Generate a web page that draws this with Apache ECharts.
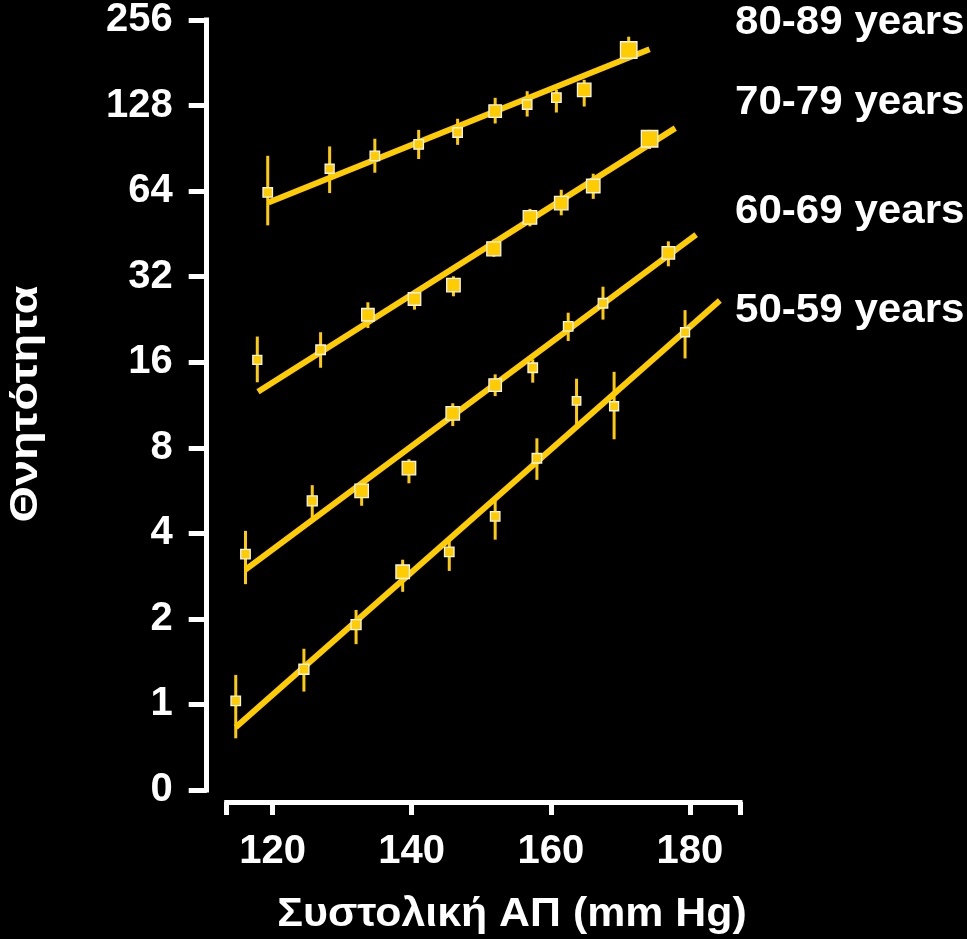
<!DOCTYPE html>
<html>
<head>
<meta charset="utf-8">
<title>Θνητότητα και συστολική ΑΠ</title>
<script src="https://cdn.jsdelivr.net/npm/echarts@6/dist/echarts.min.js"></script>
<style>
  html, body { margin: 0; padding: 0; background: #000; }
  #chart { width: 967px; height: 939px; }
</style>
</head>
<body>
<div id="chart"></div>
<script>
// Age groups, top to bottom in the legend column
const ageGroups = ['80-89 years', '70-79 years', '60-69 years', '50-59 years'];

// Systolic BP (mm Hg) per group
const sbp80 = [119.3, 128.2, 134.7, 141.0, 146.6, 152.0, 156.6, 160.8, 164.8, 171.2];
const sbp70 = [117.8, 126.9, 133.7, 140.4, 146.0, 151.8, 157.0, 161.5, 166.1, 174.2];
const sbp60 = [116.1, 125.7, 132.8, 139.6, 145.9, 152.0, 157.4, 162.5, 167.5, 176.9];
const sbp50 = [114.7, 124.5, 132.0, 138.7, 145.4, 152.0, 158.0, 163.7, 169.1, 179.3];

// Mortality per group
const mort80 = [63.3, 76.7, 85.2, 93.4, 102.9, 122.4, 129.1, 136.5, 145.3, 200.8];
const mort70 = [16.3, 17.7, 23.5, 26.7, 29.9, 40.1, 51.7, 58.1, 66.7, 97.8];
const mort60 = [3.38, 5.20, 5.64, 6.78, 10.58, 13.30, 15.30, 21.4, 25.8, 38.8];
const mort50 = [1.03, 1.33, 1.91, 2.93, 3.44, 4.59, 7.35, 11.7, 11.2, 20.4];

// Lower / upper limits of the error bars
const low80 = [48.5, 63.0, 74.3, 83.0, 93.1, 110.7, 117.1, 121.0, 127.0, 185];
const high80 = [85.2, 91.9, 97.8, 105.1, 115.0, 136.3, 143.8, 145.3, 157.6, 223.6];
const low70 = [13.6, 15.3, 21.1, 24.5, 27.3, 37.6, 48.1, 52.6, 60.1, 90];
const high70 = [19.7, 20.4, 26.0, 28.7, 32.1, 43.2, 55.4, 64.7, 73.7, 105.1];
const low60 = [2.65, 4.49, 5.00, 6.00, 9.54, 12.16, 13.56, 19.0, 22.6, 34.8];
const high60 = [4.08, 5.91, 5.95, 7.29, 11.47, 14.50, 16.37, 23.9, 29.5, 42.6];
const low50 = [0.76, 1.11, 1.63, 2.49, 2.95, 3.80, 6.17, 9.67, 8.57, 16.5];
const high50 = [1.27, 1.57, 2.15, 3.23, 3.87, 5.20, 8.64, 14.0, 14.8, 24.4];

// Fitted regression lines: [start, end] in SBP and mortality
const fitSbp80 = [119.4, 174.2];
const fitMort80 = [58.4, 202];
const fitSbp70 = [117.9, 177.9];
const fitMort70 = [12.6, 106.6];
const fitSbp60 = [116.1, 180.9];
const fitMort60 = [2.98, 45.0];
const fitSbp50 = [114.7, 184.3];
const fitMort50 = [0.832, 26.4];

// Axis ticks and labels
const xTickLabels = [120, 140, 160, 180];
const xRange = [113.4, 187.2];
const yTickLabels = [0.5, 1, 2, 4, 8, 16, 32, 64, 128, 256];

// ---- styling ----
const YELLOW = '#FFCC00';
const FONT = '"Liberation Sans", Arial, Helvetica, sans-serif';
// square sizes (px) per group, in drawing order
const squareSize80 = [9.5, 9, 9.5, 9.5, 9.5, 12.5, 9.5, 9.5, 13.5, 16.5];
const squareSize70 = [9, 9.5, 12.5, 12.5, 13.5, 14, 13.5, 13.5, 13.5, 16.5];
const squareSize60 = [9.5, 10, 13.5, 13.5, 13.5, 12.5, 9.5, 9.5, 9.5, 12.5];
const squareSize50 = [9.5, 10, 10, 13.5, 9.5, 9.5, 9.5, 8.5, 9, 9];

const groups = [
  { name: ageGroups[0], sbp: sbp80, mort: mort80, low: low80, high: high80, fx: fitSbp80, fy: fitMort80, sizes: squareSize80 },
  { name: ageGroups[1], sbp: sbp70, mort: mort70, low: low70, high: high70, fx: fitSbp70, fy: fitMort70, sizes: squareSize70 },
  { name: ageGroups[2], sbp: sbp60, mort: mort60, low: low60, high: high60, fx: fitSbp60, fy: fitMort60, sizes: squareSize60 },
  { name: ageGroups[3], sbp: sbp50, mort: mort50, low: low50, high: high50, fx: fitSbp50, fy: fitMort50, sizes: squareSize50 }
];

const series = [];
groups.forEach(function (g) {
  // vertical error bars
  series.push({
    type: 'custom',
    name: g.name + ' error',
    z: 2,
    silent: true,
    data: g.sbp.map(function (s, i) { return [s, g.low[i], g.high[i]]; }),
    encode: { x: 0, y: [1, 2] },
    renderItem: function (params, api) {
      const a = api.coord([api.value(0), api.value(1)]);
      const b = api.coord([api.value(0), api.value(2)]);
      return {
        type: 'line',
        shape: { x1: a[0], y1: a[1], x2: b[0], y2: b[1] },
        style: { stroke: YELLOW, lineWidth: 3 }
      };
    }
  });
  // regression line
  series.push({
    type: 'line',
    name: g.name + ' fit',
    z: 3,
    data: g.fx.map(function (x, i) { return [x, g.fy[i]]; }),
    showSymbol: false,
    symbol: 'none',
    lineStyle: { color: YELLOW, width: 6, cap: 'butt' },
    silent: true
  });
  // group means
  series.push({
    type: 'scatter',
    name: g.name,
    z: 4,
    symbol: 'rect',
    symbolSize: function (val, params) { return g.sizes[params.dataIndex]; },
    data: g.sbp.map(function (s, i) { return [s, g.mort[i]]; }),
    itemStyle: { color: YELLOW, borderColor: '#f2f2f2', borderWidth: 1.3, opacity: 1 },
    silent: true
  });
});

const labelY = [23, 103, 212, 311];

const chart = echarts.init(document.getElementById('chart'), null, { renderer: 'canvas' });
chart.setOption({
  backgroundColor: '#000',
  animation: false,
  grid: { left: 226.7, right: 227, top: 20, bottom: 149, containLabel: false },
  xAxis: {
    type: 'value',
    min: xRange[0],
    max: xRange[1],
    offset: 12,
    axisLine: { show: true, lineStyle: { color: '#fff', width: 5, cap: 'square' } },
    axisTick: { show: true, inside: false, length: 13, lineStyle: { color: '#fff', width: 5 },
      customValues: [xRange[0]].concat(xTickLabels, [xRange[1]]) },
    axisLabel: { color: '#fff', fontSize: 40, fontWeight: 'bold', fontFamily: FONT, margin: 30,
      customValues: xTickLabels },
    splitLine: { show: false }
  },
  yAxis: {
    type: 'log',
    logBase: 2,
    min: yTickLabels[0],
    max: yTickLabels[yTickLabels.length - 1],
    offset: 20,
    axisLine: { show: true, lineStyle: { color: '#fff', width: 5, cap: 'square' } },
    axisTick: { show: true, inside: false, length: 18, lineStyle: { color: '#fff', width: 5 },
      customValues: yTickLabels },
    axisLabel: { color: '#fff', fontSize: 40, fontWeight: 'bold', fontFamily: FONT, margin: 34,
      padding: [6, 0, 0, 0],
      customValues: yTickLabels,
      formatter: function (v) { return v < 1 ? '0' : String(Math.round(v)); } },
    splitLine: { show: false }
  },
  graphic: [
    {
      type: 'text', x: 26, y: 404, rotation: Math.PI / 2, scaleX: 1.2,
      style: { text: 'Θνητότητα', fill: '#fff', font: 'bold 39px ' + FONT, align: 'center', verticalAlign: 'middle' }
    },
    {
      type: 'text', x: 512, y: 915, scaleX: 1.045,
      style: { text: 'Συστολική ΑΠ (mm Hg)', fill: '#fff', font: 'bold 41px ' + FONT, align: 'center', verticalAlign: 'middle' }
    }
  ].concat(ageGroups.map(function (name, i) {
    return {
      type: 'text', x: 735, y: labelY[i], scaleX: 1.027,
      style: { text: name, fill: '#fff', font: 'bold 41px ' + FONT, align: 'left', verticalAlign: 'middle' }
    };
  })),
  series: series
});
</script>
</body>
</html>
